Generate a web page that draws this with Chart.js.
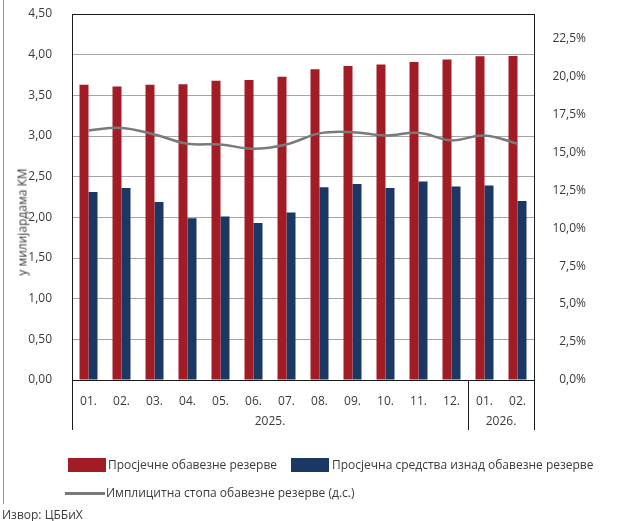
<!DOCTYPE html>
<html>
<head>
<meta charset="utf-8">
<script src="https://cdn.jsdelivr.net/npm/chart.js@4/dist/chart.umd.min.js"></script>
<style>
    body { margin: 0; background: #fff; font-family: 'Open Sans', sans-serif; color: #3a3a3a; }
    #wrap { position: relative; width: 620px; height: 521px; overflow: hidden; }
    #wrap canvas { position: absolute; left: 0; top: 0; }
    .txt { position: absolute; font-size: 12px; white-space: nowrap; line-height: 14px; }
    .box { position: absolute; }
    #ytitle { position: absolute; left: 22px; top: 222px; font-size: 12px; white-space: nowrap;
              transform: translate(-50%, -50%) rotate(-90deg); }
</style>
</head>
<body>
<div id="wrap">
    <canvas id="chart" width="620" height="521"></canvas>
    <div id="ytitle">у милијардама КМ</div>
    <div class="box" style="left:68px;top:458px;width:38px;height:14px;background:#a21c26"></div>
    <div class="txt" style="left:108px;top:458px">Просјечне обавезне резерве</div>
    <div class="box" style="left:291px;top:458px;width:38px;height:14px;background:#1b3764"></div>
    <div class="txt" style="left:332px;top:458px">Просјечна средства изнад обавезне резерве</div>
    <div class="box" style="left:65px;top:492px;width:40px;height:3px;background:#7a7a7a"></div>
    <div class="txt" style="left:106px;top:486px">Имплицитна стопа обавезне резерве (д.с.)</div>
    <div class="txt" style="left:2px;top:508px">Извор: ЦББиХ</div>
</div>
<script>
const months = ['01.', '02.', '03.', '04.', '05.', '06.', '07.', '08.', '09.', '10.', '11.', '12.', '01.', '02.'];
const years = [{ label: '2025.', from: 0, to: 11 }, { label: '2026.', from: 12, to: 13 }];

// u milijardama KM
const requiredReserves = [3.63, 3.61, 3.63, 3.635, 3.68, 3.69, 3.73, 3.82, 3.86, 3.88, 3.91, 3.94, 3.98, 3.985];
const excessReserves = [2.31, 2.36, 2.19, 1.99, 2.01, 1.93, 2.06, 2.37, 2.41, 2.36, 2.44, 2.38, 2.39, 2.20];
// d.s., u %
const impliedRate = [16.43, 16.6, 16.17, 15.56, 15.51, 15.23, 15.51, 16.24, 16.32, 16.1, 16.28, 15.78, 16.1, 15.56];

const rightTicks = [0, 2.5, 5, 7.5, 10, 12.5, 15, 17.5, 20, 22.5];

const fmt = (v, d) => v.toFixed(d).replace('.', ',');

const framePlugin = {
    id: 'frame',
    afterDraw(chart) {
        const ctx = chart.ctx;
        const a = chart.chartArea;
        const x = chart.scales.x;
        ctx.save();
        // outer left line
        ctx.strokeStyle = '#9a9a9a';
        ctx.lineWidth = 1;
        ctx.beginPath();
        ctx.moveTo(3.5, 0);
        ctx.lineTo(3.5, 504);
        ctx.stroke();
        // plot border
        ctx.strokeStyle = '#1a1a1a';
        ctx.strokeRect(Math.round(a.left) + 0.5, Math.round(a.top) + 0.5, Math.round(a.width), Math.round(a.height));
        // year separators and labels
        const half = (x.getPixelForValue(1) - x.getPixelForValue(0)) / 2;
        ctx.fillStyle = '#3a3a3a';
        ctx.font = '12px "Open Sans"';
        ctx.textAlign = 'center';
        ctx.textBaseline = 'middle';
        years.forEach(y => {
            const x0 = x.getPixelForValue(y.from) - half;
            const x1 = x.getPixelForValue(y.to) + half;
            [x0, x1].forEach(px => {
                ctx.beginPath();
                ctx.moveTo(Math.round(px) + 0.5, a.bottom);
                ctx.lineTo(Math.round(px) + 0.5, a.bottom + 50);
                ctx.stroke();
            });
            ctx.fillText(y.label, (x0 + x1) / 2, a.bottom + 42);
        });
        ctx.restore();
    }
};

new Chart(document.getElementById('chart'), {
    type: 'bar',
    data: {
        labels: months,
        datasets: [
            {
                type: 'line',
                label: 'Имплицитна стопа обавезне резерве (д.с.)',
                data: impliedRate,
                yAxisID: 'y1',
                borderColor: '#7a7a7a',
                borderWidth: 2.5,
                pointRadius: 0,
                tension: 0.4,
                order: 0
            },
            {
                label: 'Просјечне обавезне резерве',
                data: requiredReserves,
                backgroundColor: '#a21c26',
                yAxisID: 'y',
                order: 1
            },
            {
                label: 'Просјечна средства изнад обавезне резерве',
                data: excessReserves,
                backgroundColor: '#1b3764',
                yAxisID: 'y',
                order: 2
            }
        ]
    },
    options: {
        responsive: false,
        animation: false,
        layout: { padding: { top: 14, right: 34, left: 0, bottom: 0 } },
        datasets: { bar: { categoryPercentage: 0.545, barPercentage: 1 } },
        plugins: { legend: { display: false }, tooltip: { enabled: false } },
        scales: {
            x: {
                grid: { display: false, drawTicks: false },
                border: { display: false },
                ticks: { color: '#3a3a3a', font: { family: 'Open Sans', size: 12 }, padding: 14, maxRotation: 0, autoSkip: false },
                afterFit(s) { s.height = 141; }
            },
            y: {
                position: 'left',
                min: 0,
                max: 4.5,
                grid: { color: '#a6a6a6', lineWidth: 1, drawTicks: false, tickLength: 0 },
                border: { display: false },
                ticks: { stepSize: 0.5, padding: 20, color: '#3a3a3a', font: { family: 'Open Sans', size: 12 }, callback: v => fmt(v, 2) },
                afterFit(s) { s.width = 72; s.paddingTop = 0; s.paddingBottom = 0; }
            },
            y1: {
                position: 'right',
                min: 0,
                max: 24.1,
                grid: { display: false, drawTicks: false, tickLength: 0 },
                border: { display: false },
                ticks: { crossAlign: 'far', color: '#3a3a3a', font: { family: 'Open Sans', size: 12 }, callback: v => fmt(v, 1) + '%' },
                afterBuildTicks(s) { s.ticks = rightTicks.map(v => ({ value: v })); },
                afterFit(s) { s.width = 52; s.paddingTop = 0; s.paddingBottom = 0; }
            }
        }
    },
    plugins: [framePlugin]
});
</script>
</body>
</html>
